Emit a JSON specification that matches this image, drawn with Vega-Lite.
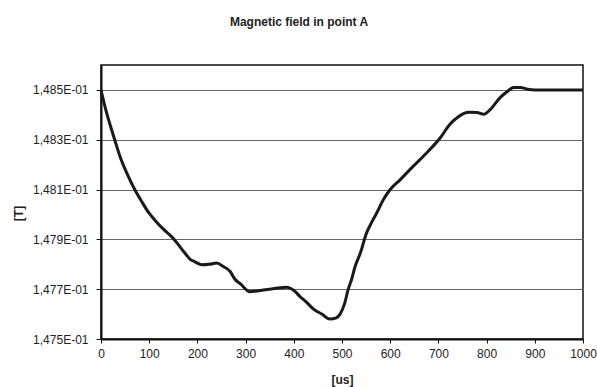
{
  "$schema": "https://vega.github.io/schema/vega-lite/v6.json",
  "autosize": {"type": "none"},
  "padding": {"left": 101, "top": 65, "right": 14, "bottom": 48},
  "width": 482,
  "height": 274,
  "background": "white",
  "title": {
    "text": "Magnetic field in point A",
    "font": "Liberation Sans",
    "fontSize": 12,
    "fontWeight": "bold",
    "color": "#222222",
    "anchor": "middle",
    "dx": -43,
    "baseline": "alphabetic",
    "offset": 27
  },
  "config": {
    "view": {"stroke": "#111111", "strokeWidth": 1.5},
    "axis": {
      "labelFont": "Liberation Sans",
      "titleFont": "Liberation Sans",
      "labelColor": "#222222",
      "titleColor": "#222222",
      "domainColor": "#111111",
      "domainWidth": 2,
      "tickColor": "#111111",
      "tickWidth": 1
    }
  },
  "data": {
    "values": [
      {"t": 0, "B": 0.14850},
      {"t": 10, "B": 0.14842},
      {"t": 22, "B": 0.14834},
      {"t": 30, "B": 0.14829},
      {"t": 40, "B": 0.14823},
      {"t": 55, "B": 0.14816},
      {"t": 70, "B": 0.14810},
      {"t": 85, "B": 0.14805},
      {"t": 98, "B": 0.14801},
      {"t": 115, "B": 0.14797},
      {"t": 130, "B": 0.14794},
      {"t": 147, "B": 0.14791},
      {"t": 160, "B": 0.14788},
      {"t": 174, "B": 0.147845},
      {"t": 185, "B": 0.14782},
      {"t": 195, "B": 0.14781},
      {"t": 209, "B": 0.147798},
      {"t": 225, "B": 0.1478},
      {"t": 240, "B": 0.147805},
      {"t": 254, "B": 0.147791},
      {"t": 268, "B": 0.147771},
      {"t": 278, "B": 0.14774},
      {"t": 290, "B": 0.14772},
      {"t": 309, "B": 0.14769},
      {"t": 320, "B": 0.147692},
      {"t": 337, "B": 0.147697},
      {"t": 360, "B": 0.147703},
      {"t": 385, "B": 0.147708},
      {"t": 395, "B": 0.147702},
      {"t": 403, "B": 0.14769},
      {"t": 413, "B": 0.14767},
      {"t": 425, "B": 0.14765},
      {"t": 441, "B": 0.14762},
      {"t": 458, "B": 0.1476},
      {"t": 475, "B": 0.14758},
      {"t": 488, "B": 0.147585},
      {"t": 496, "B": 0.1476},
      {"t": 505, "B": 0.14764},
      {"t": 513, "B": 0.1477},
      {"t": 520, "B": 0.14774},
      {"t": 527, "B": 0.14779},
      {"t": 538, "B": 0.147845},
      {"t": 551, "B": 0.147926},
      {"t": 562, "B": 0.14797},
      {"t": 572, "B": 0.148006},
      {"t": 586, "B": 0.14806},
      {"t": 600, "B": 0.1481},
      {"t": 621, "B": 0.14814},
      {"t": 648, "B": 0.148194},
      {"t": 676, "B": 0.148248},
      {"t": 704, "B": 0.148308},
      {"t": 724, "B": 0.148362},
      {"t": 740, "B": 0.14839},
      {"t": 752, "B": 0.148405},
      {"t": 765, "B": 0.14841},
      {"t": 780, "B": 0.148409},
      {"t": 794, "B": 0.148402},
      {"t": 808, "B": 0.148422},
      {"t": 828, "B": 0.148469},
      {"t": 845, "B": 0.148497},
      {"t": 856, "B": 0.14851},
      {"t": 870, "B": 0.14851},
      {"t": 885, "B": 0.148503},
      {"t": 900, "B": 0.1485},
      {"t": 1000, "B": 0.1485}
    ]
  },
  "mark": {"type": "line", "color": "#1a1a1a", "strokeWidth": 3, "interpolate": "monotone"},
  "encoding": {
    "x": {
      "field": "t",
      "type": "quantitative",
      "scale": {"domain": [0, 1000], "nice": false, "zero": false},
      "axis": {
        "values": [0, 100, 200, 300, 400, 500, 600, 700, 800, 900, 1000],
        "format": "d",
        "grid": false,
        "tickSize": 4,
        "labelPadding": 5,
        "labelFontSize": 12,
        "labelFlush": false,
        "title": "[us]",
        "titleFontSize": 12,
        "titleFontWeight": "bold",
        "titleBaseline": "alphabetic",
        "titleY": 44
      }
    },
    "y": {
      "field": "B",
      "type": "quantitative",
      "scale": {"domain": [0.1475, 0.1486], "nice": false, "zero": false},
      "axis": {
        "values": [0.1475, 0.1477, 0.1479, 0.1481, 0.1483, 0.1485],
        "labelExpr": "replace(format(datum.value * 10, '.3f'), '.', ',') + 'E-01'",
        "grid": true,
        "gridColor": "#666666",
        "gridWidth": 1.2,
        "tickSize": 5,
        "labelPadding": 8,
        "labelFontSize": 12,
        "title": "[T]",
        "titleFontSize": 12,
        "titleFontWeight": "bold",
        "titleAngle": -90,
        "titleX": -83,
        "titleY": 148,
        "titleAlign": "center",
        "titleBaseline": "middle"
      }
    }
  }
}
